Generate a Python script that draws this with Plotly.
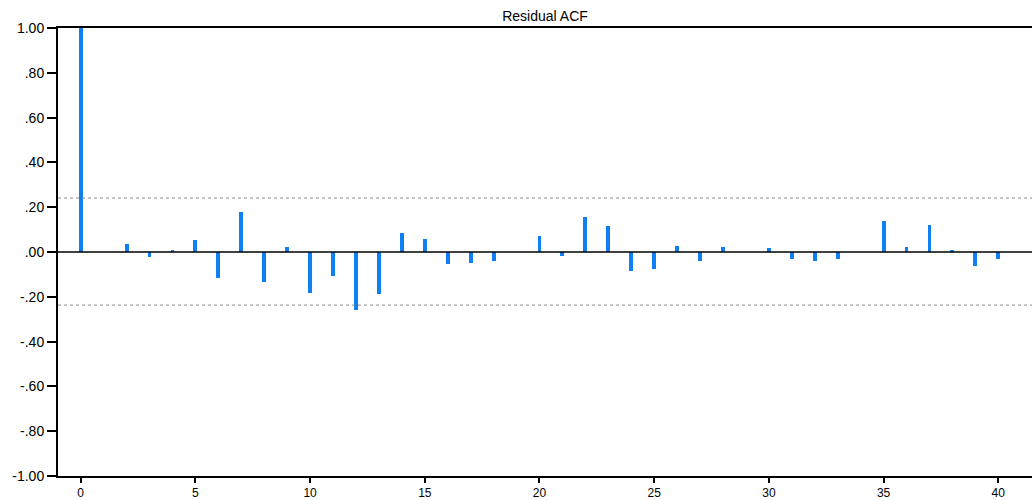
import plotly.graph_objects as go

# Residual autocorrelations by lag
lags = list(range(0, 41))
acf = [
    1.000, 0.000, 0.035, -0.023, 0.011, 0.053, -0.115, 0.179, -0.133, 0.023,
    -0.182, -0.109, -0.260, -0.188, 0.084, 0.060, -0.054, -0.050, -0.042, 0.000,
    0.072, -0.019, 0.157, 0.114, -0.086, -0.074, 0.029, -0.042, 0.023, 0.000,
    0.017, -0.030, -0.042, -0.030, 0.000, 0.137, 0.023, 0.120, 0.007, -0.062,
    -0.030,
]

# Approximate 95% confidence band
band_upper = 0.241
band_lower = -0.237

y_tickvals = [-1.0, -0.8, -0.6, -0.4, -0.2, 0.0, 0.2, 0.4, 0.6, 0.8, 1.0]
y_ticktext = ["-1.00", "-.80", "-.60", "-.40", "-.20", ".00", ".20", ".40", ".60", ".80", "1.00"]
x_tickvals = [0, 5, 10, 15, 20, 25, 30, 35, 40]

font_family = "Liberation Sans, Arial, sans-serif"

fig = go.Figure()
fig.add_trace(go.Bar(
    x=lags,
    y=acf,
    width=0.17,
    marker=dict(color="#0f80f2", line=dict(width=0)),
    showlegend=False,
))

# Zero line and confidence bounds drawn over the bars
fig.add_shape(type="line", xref="paper", yref="y", x0=0, x1=1, y0=0, y1=0,
              line=dict(color="black", width=1.6), layer="above")
for b in (band_upper, band_lower):
    fig.add_shape(type="line", xref="paper", yref="y", x0=0, x1=1, y0=b, y1=b,
                  line=dict(color="#8a8a8a", width=1, dash="dot"), layer="above")

fig.update_layout(
    width=1032,
    height=500,
    margin=dict(l=58, r=0, t=28, b=24, autoexpand=False),
    paper_bgcolor="white",
    plot_bgcolor="white",
    font=dict(family=font_family, size=14, color="black"),
    title=dict(text="Residual ACF", x=0.5, xref="paper", y=0.968, yref="container",
               xanchor="center", yanchor="middle",
               font=dict(family=font_family, size=14, color="black")),
    bargap=0,
)
fig.update_xaxes(
    range=[-0.99, 41.47],
    tickvals=x_tickvals,
    ticktext=[str(v) for v in x_tickvals],
    ticks="outside",
    ticklen=5,
    tickwidth=2,
    tickcolor="black",
    showline=True,
    linecolor="black",
    linewidth=2,
    mirror=True,
    showgrid=False,
    zeroline=False,
    automargin=False,
    tickfont=dict(size=12),
)
fig.update_yaxes(
    range=[-1.0, 1.0],
    tickvals=y_tickvals,
    ticktext=y_ticktext,
    ticks="outside",
    ticklen=9,
    tickwidth=2,
    tickcolor="black",
    showline=True,
    linecolor="black",
    linewidth=2,
    showgrid=False,
    zeroline=False,
    automargin=False,
    tickfont=dict(size=14),
)

fig.write_html("out.html")
